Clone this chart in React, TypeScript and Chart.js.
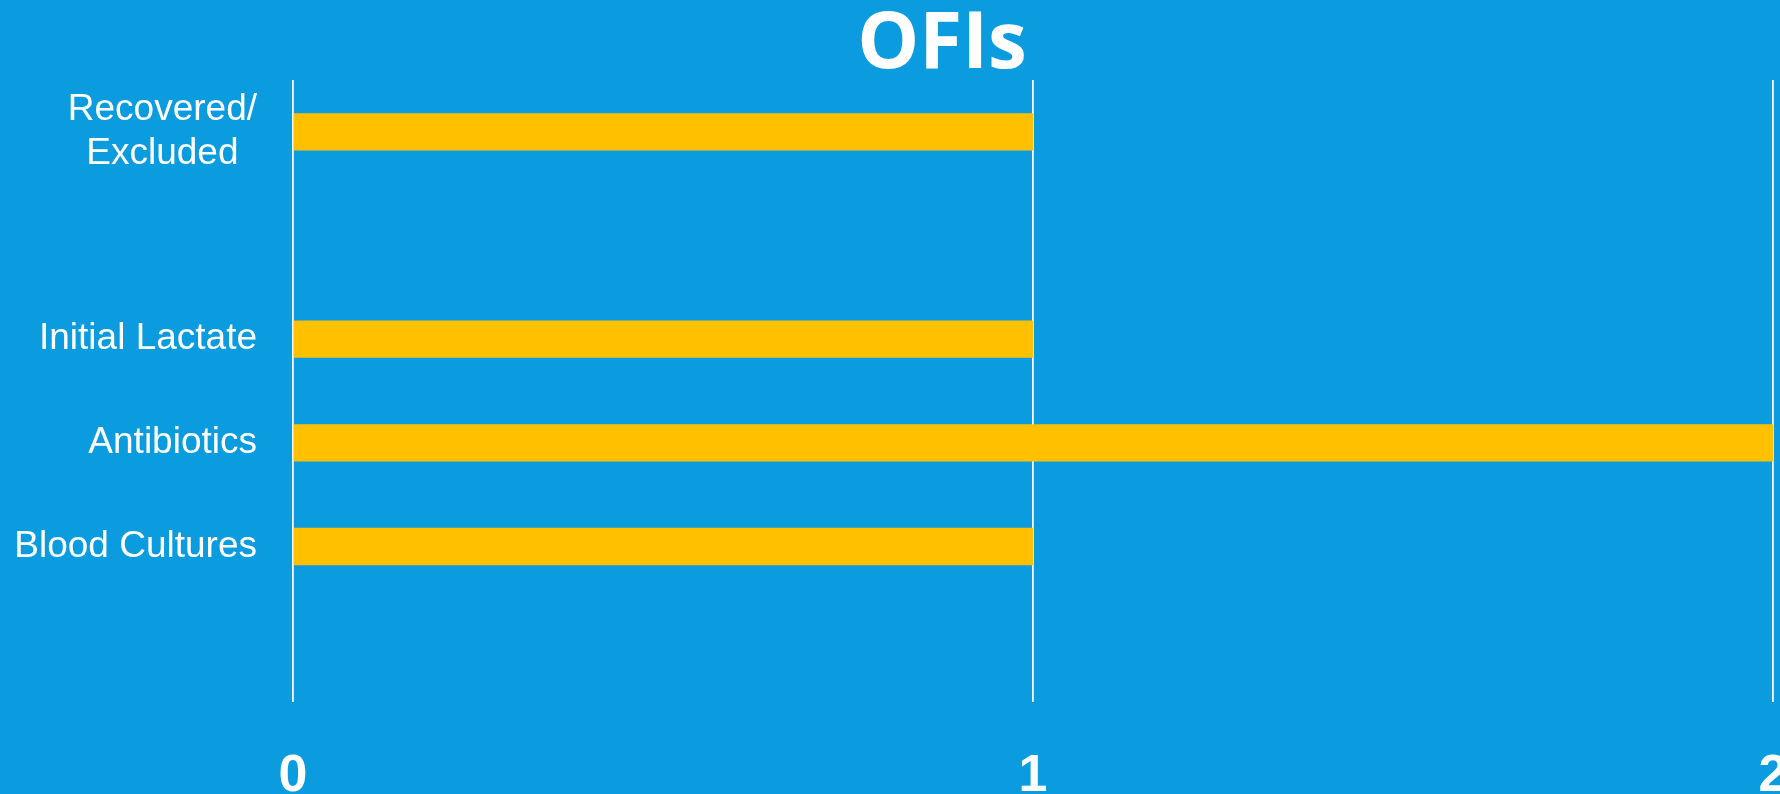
import React, { useEffect, useRef } from "react";
import { Chart, registerables } from "chart.js";

Chart.register(...registerables);

const categories: (string | string[])[] = [
  ["Recovered/", "Excluded\u2002"],
  "",
  "Initial Lactate",
  "Antibiotics",
  "Blood Cultures",
  "",
];
const ofiValues: (number | null)[] = [1, null, 1, 2, 1, null];
const xTicks: number[] = [0, 1, 2];
const chartTitle = "OFIs";

const BG = "#0B9BDF";
const BAR = "#FFC000";

const titlePlugin = {
  id: "ofiTitle",
  afterDraw(chart: any) {
    const ctx = chart.ctx;
    ctx.save();
    ctx.fillStyle = "#FFFFFF";
    ctx.font = "bold 78px 'Open Sans', 'DejaVu Sans', sans-serif";
    ctx.textAlign = "center";
    ctx.textBaseline = "alphabetic";
    ctx.fillText(chartTitle, 942, 68);
    ctx.restore();
  },
};

export default function App() {
  const ref = useRef<HTMLCanvasElement | null>(null);

  useEffect(() => {
    if (!ref.current) return;
    const chart = new Chart(ref.current, {
      type: "bar",
      data: {
        labels: categories,
        datasets: [
          {
            label: "OFIs",
            data: ofiValues,
            backgroundColor: BAR,
            borderWidth: 0,
            barPercentage: 0.36,
            categoryPercentage: 1,
          },
        ],
      },
      plugins: [titlePlugin],
      options: {
        indexAxis: "y",
        animation: false,
        responsive: true,
        maintainAspectRatio: false,
        layout: { padding: { top: 80, right: 7, left: 0, bottom: 0 } },
        plugins: {
          legend: { display: false },
          tooltip: { enabled: false },
          title: { display: false },
        },
        scales: {
          x: {
            min: 0,
            max: 2,
            afterBuildTicks: (scale: any) => {
              scale.ticks = xTicks.map((v) => ({ value: v }));
            },
            afterFit: (scale: any) => {
              scale.paddingLeft = 0;
              scale.paddingRight = 0;
              scale.height = 92;
            },
            grid: {
              color: "#FFFFFF",
              lineWidth: 1.75,
              drawTicks: false,
            },
            border: { display: false },
            ticks: {
              color: "#FFFFFF",
              padding: 49,
              font: {
                family: "'Liberation Sans', Arial, sans-serif",
                size: 52,
                weight: "bold",
                lineHeight: 1,
              },
            },
          },
          y: {
            afterFit: (scale: any) => {
              scale.width = 293;
              scale.paddingTop = 0;
              scale.paddingBottom = 0;
            },
            grid: { display: false, drawTicks: false },
            border: { display: false },
            ticks: {
              color: "#FFFFFF",
              padding: 36,
              font: {
                family: "'Liberation Sans', Arial, sans-serif",
                size: 37,
                lineHeight: 1.17,
              },
            },
          },
        },
      },
    });
    return () => chart.destroy();
  }, []);

  return (
    <div
      style={{
        position: "fixed",
        left: 0,
        top: 0,
        width: "1780px",
        height: "794px",
        background: BG,
      }}
    >
      <canvas ref={ref} />
    </div>
  );
}
